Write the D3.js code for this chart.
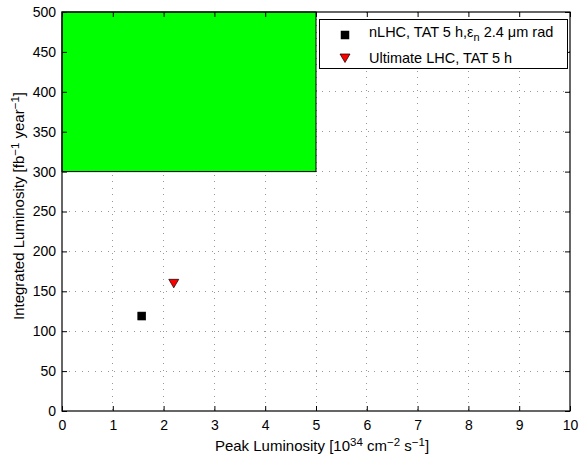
<!DOCTYPE html>
<html><head><meta charset="utf-8">
<script src="https://cdn.jsdelivr.net/npm/d3@7"></script>
<style>body{margin:0;background:#fff}text{font-family:"Liberation Sans",Arial,sans-serif}</style>
</head><body><svg id="c" width="581" height="456"></svg>
<script>
const xTicks=[0,1,2,3,4,5,6,7,8,9,10];
const yTicks=[0,50,100,150,200,250,300,350,400,450,500];
const region={x0:0,x1:5,y0:300,y1:500};
const seriesNames=["nLHC","Ultimate LHC"];
const seriesX=[1.57,2.2];
const seriesY=[119,160];
const seriesShape=["square","triangle"];
const seriesColor=["#000000","#ff0000"];

const svg=d3.select("#c");
const L=62,R=570,T=12,B=411;
const FS=14, FL=14.5, FA=15;
const x=d3.scaleLinear().domain([0,10]).range([L,R]);
const y=d3.scaleLinear().domain([0,500]).range([B,T]);
svg.append("rect").attr("width",581).attr("height",456).attr("fill","#fff");
// grid
const g=svg.append("g");
g.selectAll(".gx").data(xTicks.slice(1,-1)).join("line").attr("x1",d=>x(d)).attr("x2",d=>x(d)).attr("y1",T).attr("y2",B).attr("stroke","#999").attr("stroke-dasharray","1,5.5").attr("stroke-width",1).attr("shape-rendering","crispEdges");
g.selectAll(".gy").data(yTicks.slice(1,-1)).join("line").attr("y1",d=>y(d)).attr("y2",d=>y(d)).attr("x1",L).attr("x2",R).attr("stroke","#999").attr("stroke-dasharray","1,5.5").attr("stroke-width",1).attr("shape-rendering","crispEdges");
// green region
svg.append("rect").attr("x",x(region.x0)).attr("y",y(region.y1)).attr("width",x(region.x1)-x(region.x0)).attr("height",y(region.y0)-y(region.y1)).attr("fill","#00ff00").attr("stroke","#000").attr("stroke-width",1);
// axes
const ax=d3.axisBottom(x).tickValues(xTicks).tickSize(-5).tickPadding(9).tickFormat(d3.format("d"));
const ay=d3.axisLeft(y).tickValues(yTicks).tickSize(-5).tickPadding(6).tickFormat(d3.format("d"));
const axT=d3.axisTop(x).tickValues(xTicks).tickSize(-5).tickFormat("");
const ayR=d3.axisRight(y).tickValues(yTicks).tickSize(-5).tickFormat("");
function style(sel){sel.select(".domain").remove();sel.selectAll("line").attr("stroke","#000");sel.selectAll("text").attr("font-size",FS).attr("fill","#000").attr("font-family","Liberation Sans, Arial, sans-serif");}
svg.append("g").attr("transform",`translate(0,${B})`).call(ax).call(style);
svg.append("g").attr("transform",`translate(${L},0)`).call(ay).call(style);
svg.append("g").attr("transform",`translate(0,${T})`).call(axT).call(style);
svg.append("g").attr("transform",`translate(${R},0)`).call(ayR).call(style);
svg.append("rect").attr("x",L).attr("y",T).attr("width",R-L).attr("height",B-T).attr("fill","none").attr("stroke","#000").attr("stroke-width",1.2);
// points
function marker(sel,shape,color){
 if(shape==="square") sel.append("rect").attr("x",-4).attr("y",-4).attr("width",8).attr("height",8).attr("fill",color).attr("stroke","#000").attr("stroke-width",0.5);
 else sel.append("path").attr("d","M-5,-4L5,-4L0,4.5Z").attr("fill",color).attr("stroke","#000").attr("stroke-width",0.7);
}
seriesX.forEach((d,i)=>{const m=svg.append("g").attr("transform",`translate(${x(d)},${y(seriesY[i])})`);marker(m,seriesShape[i],seriesColor[i]);});
// legend
const lg=svg.append("g");
lg.append("rect").attr("x",319.5).attr("y",19.5).attr("width",248).attr("height",49).attr("fill","#fff").attr("stroke","#000").attr("stroke-width",1);
const m1=lg.append("g").attr("transform","translate(345,35)");marker(m1,seriesShape[0],seriesColor[0]);
const m2=lg.append("g").attr("transform","translate(345,58)");marker(m2,seriesShape[1],seriesColor[1]);
const t1=lg.append("text").attr("x",369).attr("y",37).attr("font-size",FL);
t1.append("tspan").text("nLHC, TAT 5 h,ε");
t1.append("tspan").attr("dy",4).attr("font-size",11).text("n");
t1.append("tspan").attr("dy",-4).text(" 2.4 μm rad");
lg.append("text").attr("x",369).attr("y",63).attr("font-size",FL).text("Ultimate LHC, TAT 5 h");
// x label
const xl=svg.append("text").attr("x",322).attr("y",451).attr("text-anchor","middle").attr("font-size",FA);
xl.append("tspan").text("Peak Luminosity [10");
xl.append("tspan").attr("dy",-5).attr("font-size",11.5).text("34");
xl.append("tspan").attr("dy",5).text(" cm");
xl.append("tspan").attr("dy",-5).attr("font-size",11.5).text("−2");
xl.append("tspan").attr("dy",5).text(" s");
xl.append("tspan").attr("dy",-5).attr("font-size",11.5).text("−1");
xl.append("tspan").attr("dy",5).text("]");
const yl=svg.append("text").attr("transform","translate(24,206) rotate(-90)").attr("text-anchor","middle").attr("font-size",FA);
yl.append("tspan").text("Integrated Luminosity [fb");
yl.append("tspan").attr("dy",-5).attr("font-size",11.5).text("−1");
yl.append("tspan").attr("dy",5).text(" year");
yl.append("tspan").attr("dy",-5).attr("font-size",11.5).text("−1");
yl.append("tspan").attr("dy",5).text("]");
</script></body></html>
